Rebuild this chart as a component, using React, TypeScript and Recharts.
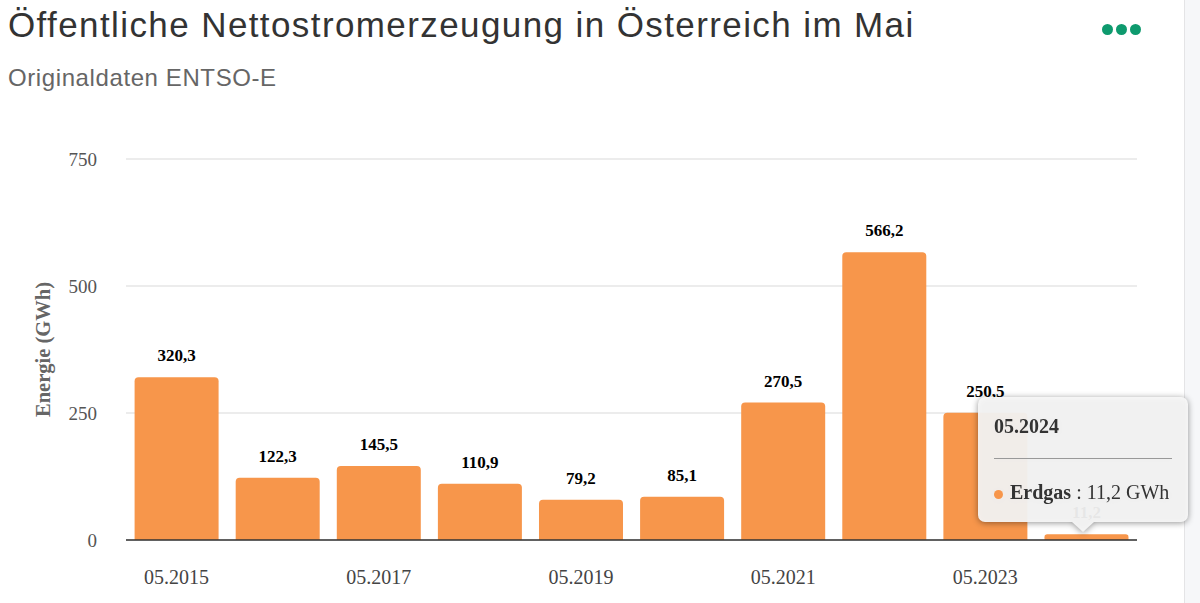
import React from "react";
import {
  BarChart,
  Bar,
  XAxis,
  YAxis,
  CartesianGrid,
  Tooltip,
  LabelList,
  Label
} from "recharts";

const months = [
  "05.2015",
  "05.2016",
  "05.2017",
  "05.2018",
  "05.2019",
  "05.2020",
  "05.2021",
  "05.2022",
  "05.2023",
  "05.2024"
];
const erdgas = [320.3, 122.3, 145.5, 110.9, 79.2, 85.1, 270.5, 566.2, 250.5, 11.2];
const yTicks = [0, 250, 500, 750];

const data = months.map((month, i) => ({ month, erdgas: erdgas[i] }));

const serif = "'Liberation Serif', 'DejaVu Serif', serif";
const sans = "'Liberation Sans', Arial, sans-serif";
const barColor = "#F7964B";
const tipBg = "rgba(248,248,248,0.93)";

const fmt = (v: number) => v.toFixed(1).replace(".", ",");

const CustomTooltip = ({
  active,
  payload,
  label
}: {
  active?: boolean;
  payload?: { name: string; value: number; color: string }[];
  label?: string;
}) => {
  if (!active || !payload || !payload.length) return null;
  return (
    <div style={{ position: "relative", filter: "drop-shadow(0 1px 3px rgba(0,0,0,0.45))" }}>
      <div
        style={{
          width: 210,
          height: 125,
          boxSizing: "border-box",
          background: tipBg,
          borderRadius: 7,
          padding: "17px 16px 0 16px",
          fontFamily: serif,
          color: "#333"
        }}
      >
        <div style={{ fontSize: 20, fontWeight: "bold", lineHeight: "24px" }}>{label}</div>
        <div style={{ borderTop: "1px solid #999", margin: "20px 0 0 0" }} />
        <div style={{ fontSize: 20, lineHeight: "24px", marginTop: 21, whiteSpace: "nowrap" }}>
          <span
            style={{
              display: "inline-block",
              width: 9,
              height: 9,
              borderRadius: 5,
              background: barColor,
              marginRight: 7,
              verticalAlign: "middle"
            }}
          />
          <b>Erdgas</b> : {fmt(payload[0].value)} GWh
        </div>
      </div>
      <div
        style={{
          position: "absolute",
          left: 94,
          bottom: -10,
          width: 0,
          height: 0,
          borderLeft: "11px solid transparent",
          borderRight: "11px solid transparent",
          borderTop: `10px solid ${tipBg}`
        }}
      />
    </div>
  );
};

export default function App() {
  return (
    <div style={{ position: "absolute", left: 0, top: 0, width: 1200, height: 603, background: "#fff", overflow: "hidden" }}>
      <div
        style={{
          position: "absolute",
          left: 1184,
          top: 0,
          width: 16,
          height: 603,
          background: "#f6f7f9",
          borderLeft: "1px solid #e4e4e6"
        }}
      />
      <div
        style={{
          position: "absolute",
          left: 8,
          top: 5,
          fontFamily: sans,
          fontSize: 35,
          letterSpacing: 1.4,
          lineHeight: "40px",
          color: "#333",
          whiteSpace: "nowrap"
        }}
      >
        Öffentliche Nettostromerzeugung in Österreich im Mai
      </div>
      <div
        style={{
          position: "absolute",
          left: 8,
          top: 64,
          fontFamily: sans,
          fontSize: 24,
          letterSpacing: 0.6,
          color: "#666",
          whiteSpace: "nowrap"
        }}
      >
        Originaldaten ENTSO-E
      </div>
      <div style={{ position: "absolute", left: 1102, top: 24, display: "flex", gap: 3 }}>
        {[0, 1, 2].map((i) => (
          <span key={i} style={{ width: 11, height: 11, borderRadius: 6, background: "#0e9a6e", display: "block" }} />
        ))}
      </div>
      <div style={{ position: "absolute", left: 0, top: 0 }}>
        <BarChart
          width={1200}
          height={603}
          data={data}
          margin={{ top: 159, right: 63, left: 0, bottom: 23 }}
          barCategoryGap="8.5%"
        >
          <CartesianGrid vertical={false} stroke="#e6e6e6" strokeWidth={1.5} />
          <XAxis
            dataKey="month"
            interval={1}
            height={40}
            tickLine={false}
            tickMargin={24}
            axisLine={{ stroke: "#333", strokeWidth: 1.5 }}
            tick={{ fontSize: 20, fill: "#444", fontFamily: serif }}
          />
          <YAxis
            width={126}
            domain={[0, 750]}
            ticks={yTicks}
            axisLine={false}
            tickLine={false}
            tickMargin={23}
            tick={{ fontSize: 19, fill: "#555", fontFamily: serif }}
          >
            <Label
              value="Energie (GWh)"
              angle={-90}
              position="insideLeft"
              offset={43}
              style={{ textAnchor: "middle", fontSize: 20.5, fontWeight: "bold", fill: "#666", fontFamily: serif }}
            />
          </YAxis>
          <Tooltip
            content={<CustomTooltip />}
            defaultIndex={9}
            active={true}
            cursor={false}
            position={{ x: 978, y: 397 }}
            isAnimationActive={false}
            wrapperStyle={{ zIndex: 10, outline: "none" }}
          />
          <Bar dataKey="erdgas" fill={barColor} radius={[4, 4, 0, 0]} isAnimationActive={false}>
            <LabelList
              dataKey="erdgas"
              position="top"
              offset={16}
              formatter={(v: number) => fmt(v)}
              style={{ fontSize: 17, fontWeight: "bold", fill: "#000", fontFamily: serif }}
            />
          </Bar>
        </BarChart>
      </div>
    </div>
  );
}
